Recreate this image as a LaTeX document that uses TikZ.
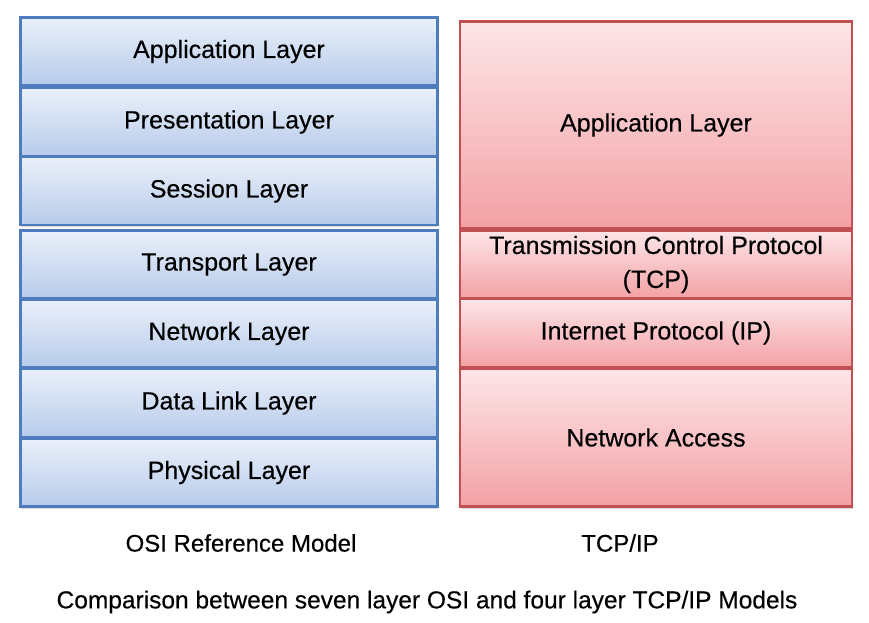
\documentclass[tikz,border=0pt]{standalone}
\usepackage{fontspec}
\setmainfont{Liberation Sans}[UprightFeatures={FakeBold=0.35}]
\usetikzlibrary{shadows}
\definecolor{osiborder}{HTML}{4F7CBC}
\definecolor{ositop}{HTML}{EAF0FA}
\definecolor{osibot}{HTML}{B7CBEA}
\definecolor{tcpborder}{HTML}{C24F52}
\definecolor{tcptop}{HTML}{FDE6E8}
\definecolor{tcpbot}{HTML}{F3A1A5}
\tikzset{
  layer/.style={rectangle, inner sep=0pt, line width=2.2pt, anchor=center,
    font=\fontsize{25}{34}\selectfont, align=center,
    drop shadow={shadow xshift=0.5pt, shadow yshift=-2pt, opacity=0.25, fill=black!60}},
  osi/.style={layer, draw=osiborder, top color=ositop, bottom color=osibot,
    minimum width=417pt},
  tcp/.style={layer, draw=tcpborder, top color=tcptop, bottom color=tcpbot,
    minimum width=392pt},
  captext/.style={font=\fontsize{24}{28}\selectfont, anchor=center, inner sep=0pt}
}
\newcommand{\lowered}[1]{\raisebox{-2pt}{#1}}
\begin{document}
\begin{tikzpicture}[x=1pt, y=-1pt]
\useasboundingbox[fill=white] (0,0) rectangle (869,623);
% OSI column
\node[osi, minimum height=68pt] (app)  at (229,51.5)  {\lowered{Application Layer}};
\node[osi, minimum height=68pt] (pres) at (229,122)   {\lowered{Presentation Layer}};
\node[osi, minimum height=68pt] (sess) at (229,191)   {\lowered{Session Layer}};
\node[osi, minimum height=68pt] (trans) at (229,264.5) {\lowered{Transport Layer}};
\node[osi, minimum height=68pt] (net)  at (229,333.5) {\lowered{Network Layer}};
\node[osi, minimum height=68pt] (dl)   at (229,403)   {\lowered{Data Link Layer}};
\node[osi, minimum height=68pt] (phys) at (229,472.5) {\lowered{Physical Layer}};
% TCP/IP column
\node[tcp, minimum height=207pt] (tapp) at (656,125)   {\lowered{Application Layer}};
\node[tcp, minimum height=68pt]  (ttcp) at (656,264.5) {Transmission Control Protocol\\(TCP)};
\node[tcp, minimum height=69pt]  (tip)  at (656,333)   {\lowered{Internet Protocol (IP)}};
\node[tcp, minimum height=138pt] (tna)  at (656,437.5) {\lowered{Network Access}};
% captions
\node[captext] (osicap) at (241,543) {OSI Reference Model};
\node[captext] (tcpcap) at (620,543) {TCP/IP};
\node[captext, font=\fontsize{24.5}{28}\selectfont] (title) at (427,602) {Comparison between seven layer OSI and four layer TCP/IP Models};
\end{tikzpicture}
\end{document}
